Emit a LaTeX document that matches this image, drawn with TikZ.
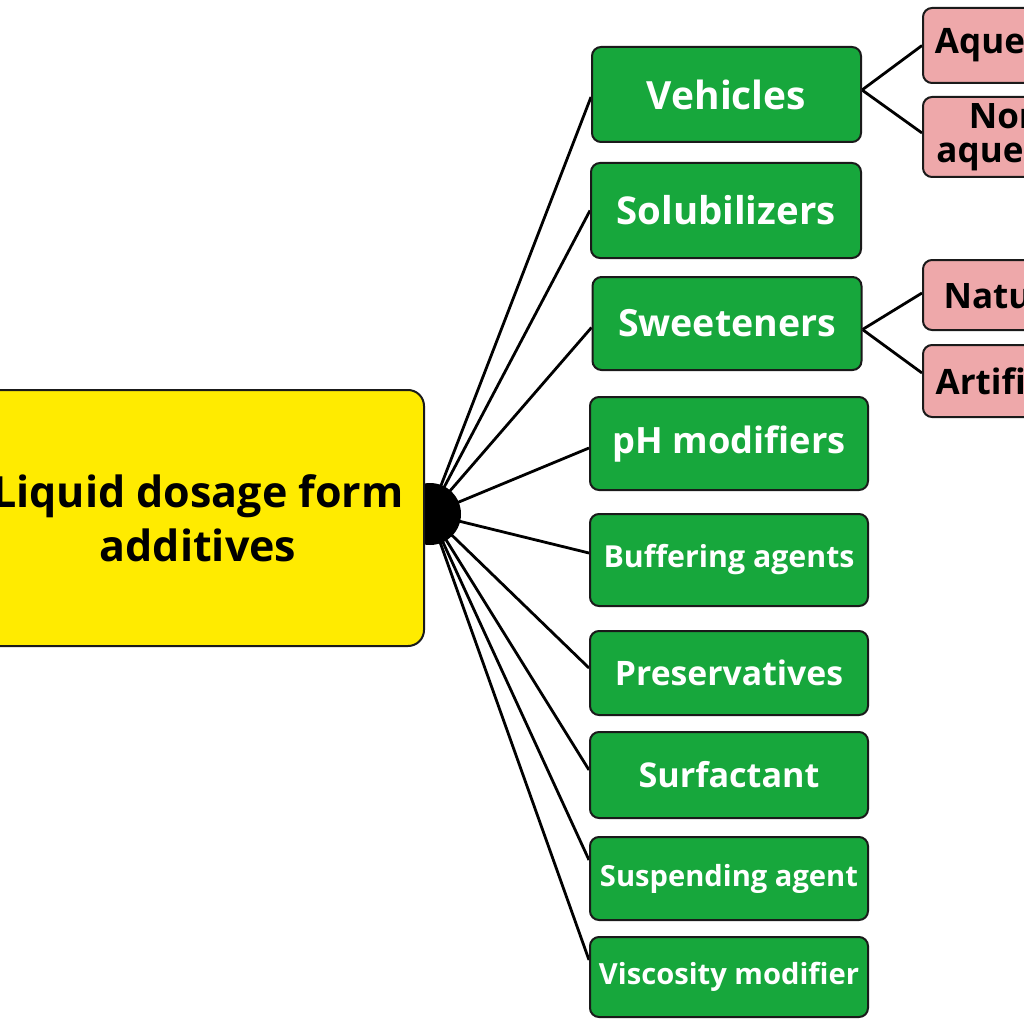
\documentclass[tikz,border=0pt]{standalone}
\usepackage{fontspec}
\usetikzlibrary{backgrounds}
\setmainfont{Open Sans}
\newcommand\fitw[2]{\resizebox{#1pt}{!}{#2}}
\definecolor{gbox}{HTML}{17A73C}
\definecolor{ybox}{HTML}{FFEB00}
\definecolor{pbox}{HTML}{EEA8AA}
\definecolor{edge}{HTML}{1A1A1A}
\tikzset{
  gnode/.style={draw=edge, line width=2pt, fill=gbox, rounded corners=9pt, text=white,
    font=\bfseries, inner sep=0pt, anchor=center},
  pnode/.style={draw=edge, line width=2pt, fill=pbox, rounded corners=9pt, text=black,
    font=\bfseries\fontsize{35}{34}\selectfont, align=center, inner sep=0pt, minimum width=176pt},
  conn/.style={draw=black, line width=2.8pt},
}
\begin{document}
\begin{tikzpicture}[x=1pt,y=-1pt]
\useasboundingbox (0,0) rectangle (1024,1024);
\clip (0,0) rectangle (1024,1024);
% green boxes
\node[gnode, minimum width=269pt, minimum height=95pt] (g1) at (726.5,94.5) {\fitw{159}{Vehicles}};
\node[gnode, minimum width=270pt, minimum height=95pt] (g2) at (726,210.5) {\fitw{219}{Solubilizers}};
\node[gnode, minimum width=269pt, minimum height=93pt] (g3) at (727,323.5) {\fitw{218}{Sweeteners}};
\node[gnode, minimum width=278pt, minimum height=93pt] (g4) at (729,443.5) {\fitw{233}{pH modifiers}};
\node[gnode, minimum width=278pt, minimum height=92pt] (g5) at (729,560) {\fitw{251}{Buffering agents}};
\node[gnode, minimum width=278pt, minimum height=84pt] (g6) at (729,673) {\fitw{228}{Preservatives}};
\node[gnode, minimum width=278pt, minimum height=86pt] (g7) at (729,775) {\fitw{181}{Surfactant}};
\node[gnode, minimum width=278pt, minimum height=83pt] (g8) at (729,878.5) {\fitw{258}{Suspending agent}};
\node[gnode, minimum width=278pt, minimum height=80pt] (g9) at (729,977) {\fitw{260}{Viscosity modifier}};
% pink boxes
\node[pnode, minimum height=75pt, anchor=west] (p1) at (922,45.5) {Aqueous};
\node[pnode, minimum height=80pt, anchor=west] (p2) at (922,137) {Non-\\aqueous};
\node[pnode, minimum height=70pt, anchor=west] (p3) at (922,295) {Natural};
\node[pnode, minimum height=72pt, anchor=west] (p4) at (922,381) {Artificial};
% hub and root
\node[circle, fill=black, minimum size=62pt, inner sep=0pt] (dot) at (430,514) {};
\node[draw=edge, line width=2pt, fill=ybox, rounded corners=16pt, minimum width=452pt, minimum height=256pt,
  font=\bfseries\fontsize{43}{54}\selectfont, align=center, inner sep=0pt] (root) at (198,518)
  {Liquid dosage form\\additives};
\begin{scope}[on background layer]
\fill[white] (0,0) rectangle (1024,1024);
\draw[conn] (dot.center) -- ([yshift=-2.5pt]g1.west);
\draw[conn] (dot.center) -- (g2.west);
\draw[conn] (dot.center) -- ([yshift=-4pt]g3.west);
\draw[conn] (dot.center) -- ([yshift=-4.5pt]g4.west);
\draw[conn] (dot.center) -- ([yshift=7pt]g5.west);
\draw[conn] (dot.center) -- ([yshift=5pt]g6.west);
\draw[conn] (dot.center) -- ([yshift=5pt]g7.west);
\draw[conn] (dot.center) -- ([yshift=18.5pt]g8.west);
\draw[conn] (dot.center) -- ([yshift=17pt]g9.west);
\draw[conn] ([yshift=4.5pt]g1.east) -- (p1.west);
\draw[conn] ([yshift=4.5pt]g1.east) -- ([yshift=4pt]p2.west);
\draw[conn] ([yshift=-6pt]g3.east) -- ([yshift=2pt]p3.west);
\draw[conn] ([yshift=-6pt]g3.east) -- ([yshift=8pt]p4.west);
\end{scope}
\end{tikzpicture}
\end{document}
